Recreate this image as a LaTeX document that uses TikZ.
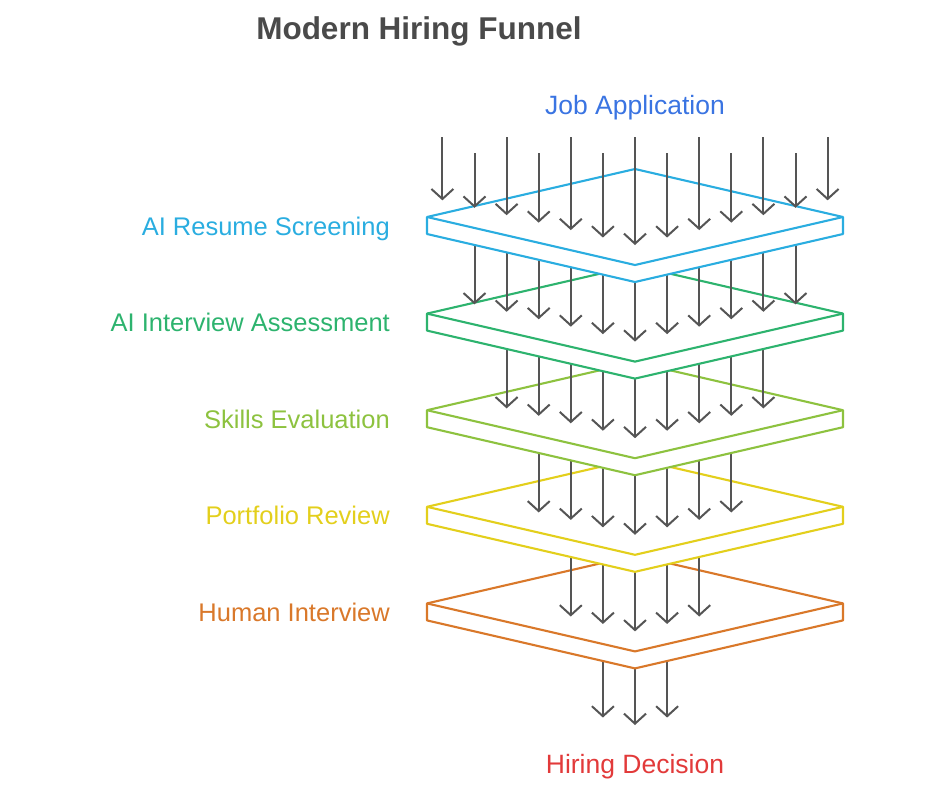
\documentclass[tikz,border=0pt]{standalone}
\usepackage{fontspec}
\setmainfont{Liberation Sans}
\usetikzlibrary{arrows.meta}
\definecolor{cTitle}{HTML}{4A4A4A}
\definecolor{cArrow}{HTML}{555555}
\definecolor{cJob}{HTML}{3A74E2}
\definecolor{cHire}{HTML}{E23A3A}
\definecolor{cOne}{HTML}{2AADE0}
\definecolor{cTwo}{HTML}{2DB36E}
\definecolor{cThree}{HTML}{8DC23F}
\definecolor{cFour}{HTML}{E3CF1C}
\definecolor{cFive}{HTML}{D9782A}
\newcommand\drawplate[2]{%
  \draw[platestyle,draw=#2] (427,#1) -- (635,#1-48) -- (843,#1) -- (843,#1+17) -- (635,#1+65) -- (427,#1+17) -- cycle;
  \draw[platestyle,draw=#2,fill=none] (427,#1) -- (635,#1+48) -- (843,#1);
}
\newcommand\arrowlayer[3]{%
  \foreach \k in {-#1,...,#1} {
    \pgfmathsetmacro\dx{32.1*\k}
    \pgfmathsetmacro\adx{abs(\dx)}
    \draw[arr] (635+\dx, {#2+65-0.2308*\adx}) -- (635+\dx, {#3+28-0.232*\adx});
  }}
\begin{document}
\begin{tikzpicture}[x=1pt,y=-1pt,
  platestyle/.style={line width=2.1pt, fill=white, line join=round},
  arr/.style={draw=cArrow, line width=2pt, -{Straight Barb[length=10pt,width=22pt,line width=2pt]}},
  lbl/.style={font=\fontsize{25.5}{28}\selectfont, anchor=base east, inner sep=0pt}]
\useasboundingbox (0,0) rectangle (940,788);

\node[anchor=base, inner sep=0pt, text=cTitle, font=\fontsize{31.5}{34}\selectfont\bfseries] (title) at (419,39) {Modern Hiring Funnel};
\node[lbl, anchor=base, text=cJob, font=\fontsize{26.5}{28}\selectfont] (job) at (635,114.3) {Job Application};
\node[lbl, anchor=base, text=cHire, font=\fontsize{26.5}{28}\selectfont] (hire) at (635,773.3) {Hiring Decision};

\node[lbl, text=cOne] (l1) at (390,235) {AI Resume Screening};
\node[lbl, text=cTwo] (l2) at (390,331.6) {AI Interview Assessment};
\node[lbl, text=cThree] (l3) at (390,428.2) {Skills Evaluation};
\node[lbl, text=cFour] (l4) at (390,524.8) {Portfolio Review};
\node[lbl, text=cFive] (l5) at (390,621.4) {Human Interview};

% final arrows
\foreach \k in {-1,0,1} {
  \pgfmathsetmacro\dx{32.1*\k}
  \pgfmathsetmacro\adx{abs(\dx)}
  \draw[arr] (635+\dx, {603.4+65-0.2308*\adx}) -- (635+\dx, {603.4+121.6-0.232*\adx});
}

\drawplate{603.4}{cFive}
\arrowlayer{2}{506.8}{603.4}
\drawplate{506.8}{cFour}
\arrowlayer{3}{410.2}{506.8}
\drawplate{410.2}{cThree}
\arrowlayer{4}{313.6}{410.2}
\drawplate{313.6}{cTwo}
\arrowlayer{5}{217}{313.6}
\drawplate{217}{cOne}

% top arrows
\foreach \k in {-6,...,6} {
  \pgfmathsetmacro\dx{32.1*\k}
  \pgfmathsetmacro\adx{abs(\dx)}
  \pgfmathsetmacro\sy{mod(abs(\k),2)==0 ? 137.3 : 153.3}
  \draw[arr] (635+\dx, \sy) -- (635+\dx, {217+28-0.232*\adx});
}
\end{tikzpicture}
\end{document}
